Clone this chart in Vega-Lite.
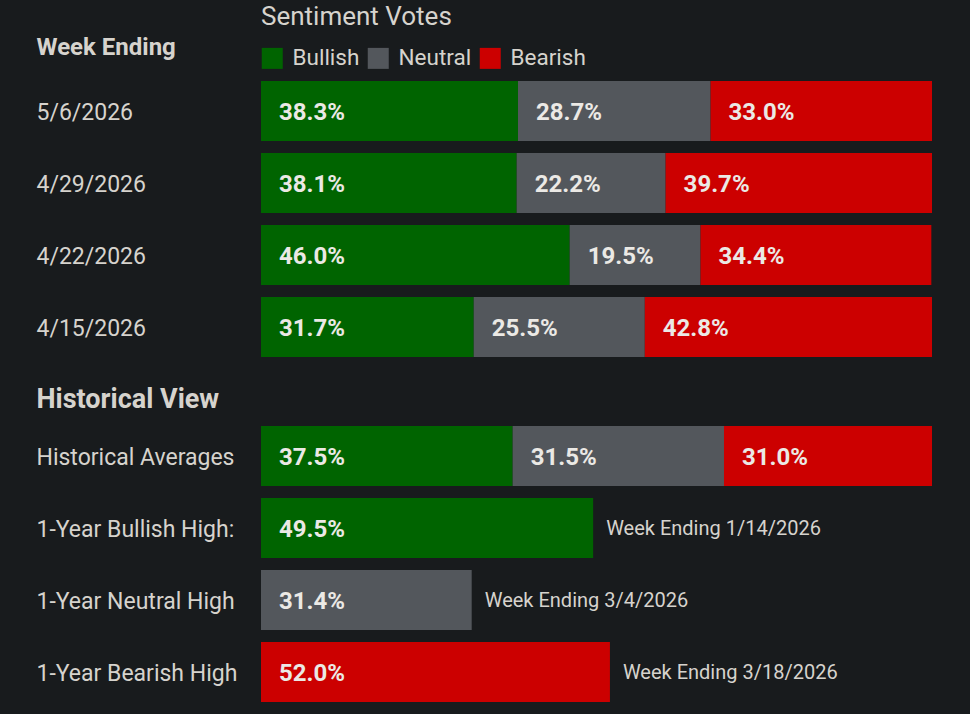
{
  "$schema": "https://vega.github.io/schema/vega-lite/v6.json",
  "background": "#181b1d",
  "padding": {"left": 36, "top": 4, "right": 38, "bottom": 6},
  "spacing": 57,
  "bounds": "flush",
  "config": {
    "view": {"stroke": null},
    "font": "Roboto"
  },
  "datasets": {
    "weeks": [
      {"week": "5/6/2026", "sentiment": "Bullish", "pct": 0.383},
      {"week": "5/6/2026", "sentiment": "Neutral", "pct": 0.287},
      {"week": "5/6/2026", "sentiment": "Bearish", "pct": 0.330},
      {"week": "4/29/2026", "sentiment": "Bullish", "pct": 0.381},
      {"week": "4/29/2026", "sentiment": "Neutral", "pct": 0.222},
      {"week": "4/29/2026", "sentiment": "Bearish", "pct": 0.397},
      {"week": "4/22/2026", "sentiment": "Bullish", "pct": 0.460},
      {"week": "4/22/2026", "sentiment": "Neutral", "pct": 0.195},
      {"week": "4/22/2026", "sentiment": "Bearish", "pct": 0.344},
      {"week": "4/15/2026", "sentiment": "Bullish", "pct": 0.317},
      {"week": "4/15/2026", "sentiment": "Neutral", "pct": 0.255},
      {"week": "4/15/2026", "sentiment": "Bearish", "pct": 0.428}
    ],
    "history": [
      {"row": "Historical Averages", "sentiment": "Bullish", "pct": 0.375, "note": null},
      {"row": "Historical Averages", "sentiment": "Neutral", "pct": 0.315, "note": null},
      {"row": "Historical Averages", "sentiment": "Bearish", "pct": 0.310, "note": null},
      {"row": "1-Year Bullish High:", "sentiment": "Bullish", "pct": 0.495, "note": "Week Ending 1/14/2026"},
      {"row": "1-Year Neutral High", "sentiment": "Neutral", "pct": 0.314, "note": "Week Ending 3/4/2026"},
      {"row": "1-Year Bearish High", "sentiment": "Bearish", "pct": 0.520, "note": "Week Ending 3/18/2026"}
    ]
  },
  "resolve": {"scale": {"color": "independent"}, "legend": {"color": "independent"}},
  "vconcat": [
    {
      "width": 671,
      "height": 288,
      "data": {"name": "weeks"},
      "transform": [{"stack": "pct", "groupby": ["week"], "as": ["x0", "x1"]}],
      "encoding": {
        "y": {
          "field": "week", "type": "nominal", "sort": null,
          "scale": {"paddingInner": 0.16667, "paddingOuter": 0.08333},
          "axis": {
            "title": "Week Ending", "titleAngle": 0, "titleAlign": "left", "titleBaseline": "middle",
            "titleX": -225, "titleY": -28, "titleFontSize": 24, "titleFontWeight": "bold", "titleColor": "#d6d3cd",
            "domain": false, "ticks": false, "tickSize": 0, "grid": false, "labelLimit": 0, "labelOffset": 2,
            "labelAlign": "left", "labelPadding": 225, "labelFontSize": 23, "labelColor": "#d6d3cd", "labelFontWeight": "normal"
          }
        }
      },
      "layer": [
        {
          "mark": {"type": "bar", "strokeWidth": 0},
          "encoding": {
            "x": {"field": "x0", "type": "quantitative", "scale": {"domain": [0, 1], "nice": false}, "axis": null},
            "x2": {"field": "x1"},
            "color": {
              "field": "sentiment", "type": "nominal",
              "scale": {"domain": ["Bullish", "Neutral", "Bearish"], "range": ["#006400", "#53575c", "#cc0000"]},
              "legend": {
                "orient": "top", "direction": "horizontal", "title": "Sentiment Votes", "titleLimit": 0,
                "titleFontSize": 26, "titleFontWeight": "normal", "titleColor": "#d6d3cd", "titlePadding": 17,
                "labelFontSize": 22.5, "labelColor": "#d6d3cd", "labelOffset": 9, "columnPadding": 7, "labelLimit": 0,
                "symbolType": "square", "symbolSize": 441, "symbolStrokeWidth": 0, "symbolOpacity": 1,
                "offset": 5, "padding": 0
              }
            }
          }
        },
        {
          "mark": {"type": "text", "align": "left", "baseline": "middle", "dx": 18, "dy": 2, "fontSize": 24, "fontWeight": "bold", "color": "#ebe9e5"},
          "encoding": {
            "x": {"field": "x0", "type": "quantitative"},
            "text": {"field": "pct", "type": "quantitative", "format": ".1%"}
          }
        }
      ]
    },
    {
      "width": 671,
      "height": 288,
      "data": {"name": "history"},
      "transform": [{"stack": "pct", "groupby": ["row"], "as": ["x0", "x1"]}],
      "encoding": {
        "y": {
          "field": "row", "type": "nominal", "sort": null,
          "scale": {"paddingInner": 0.16667, "paddingOuter": 0.08333},
          "axis": {
            "title": "Historical View", "titleAngle": 0, "titleAlign": "left", "titleBaseline": "middle",
            "titleX": -225, "titleY": -21, "titleFontSize": 27, "titleFontWeight": "bold", "titleColor": "#d6d3cd",
            "domain": false, "ticks": false, "tickSize": 0, "grid": false, "labelLimit": 0, "labelOffset": 2,
            "labelAlign": "left", "labelPadding": 225, "labelFontSize": 23, "labelColor": "#d6d3cd", "labelFontWeight": "normal"
          }
        }
      },
      "layer": [
        {
          "mark": {"type": "bar", "strokeWidth": 0},
          "encoding": {
            "x": {"field": "x0", "type": "quantitative", "scale": {"domain": [0, 1], "nice": false}, "axis": null},
            "x2": {"field": "x1"},
            "color": {
              "field": "sentiment", "type": "nominal",
              "scale": {"domain": ["Bullish", "Neutral", "Bearish"], "range": ["#006400", "#53575c", "#cc0000"]},
              "legend": null
            }
          }
        },
        {
          "mark": {"type": "text", "align": "left", "baseline": "middle", "dx": 18, "dy": 2, "fontSize": 24, "fontWeight": "bold", "color": "#ebe9e5"},
          "encoding": {
            "x": {"field": "x0", "type": "quantitative"},
            "text": {"field": "pct", "type": "quantitative", "format": ".1%"}
          }
        },
        {
          "transform": [{"filter": "datum.note != null"}],
          "mark": {"type": "text", "align": "left", "baseline": "middle", "dx": 13, "dy": 1, "fontSize": 20, "color": "#d6d3cd"},
          "encoding": {
            "x": {"field": "x1", "type": "quantitative"},
            "text": {"field": "note", "type": "nominal"}
          }
        }
      ]
    }
  ]
}
